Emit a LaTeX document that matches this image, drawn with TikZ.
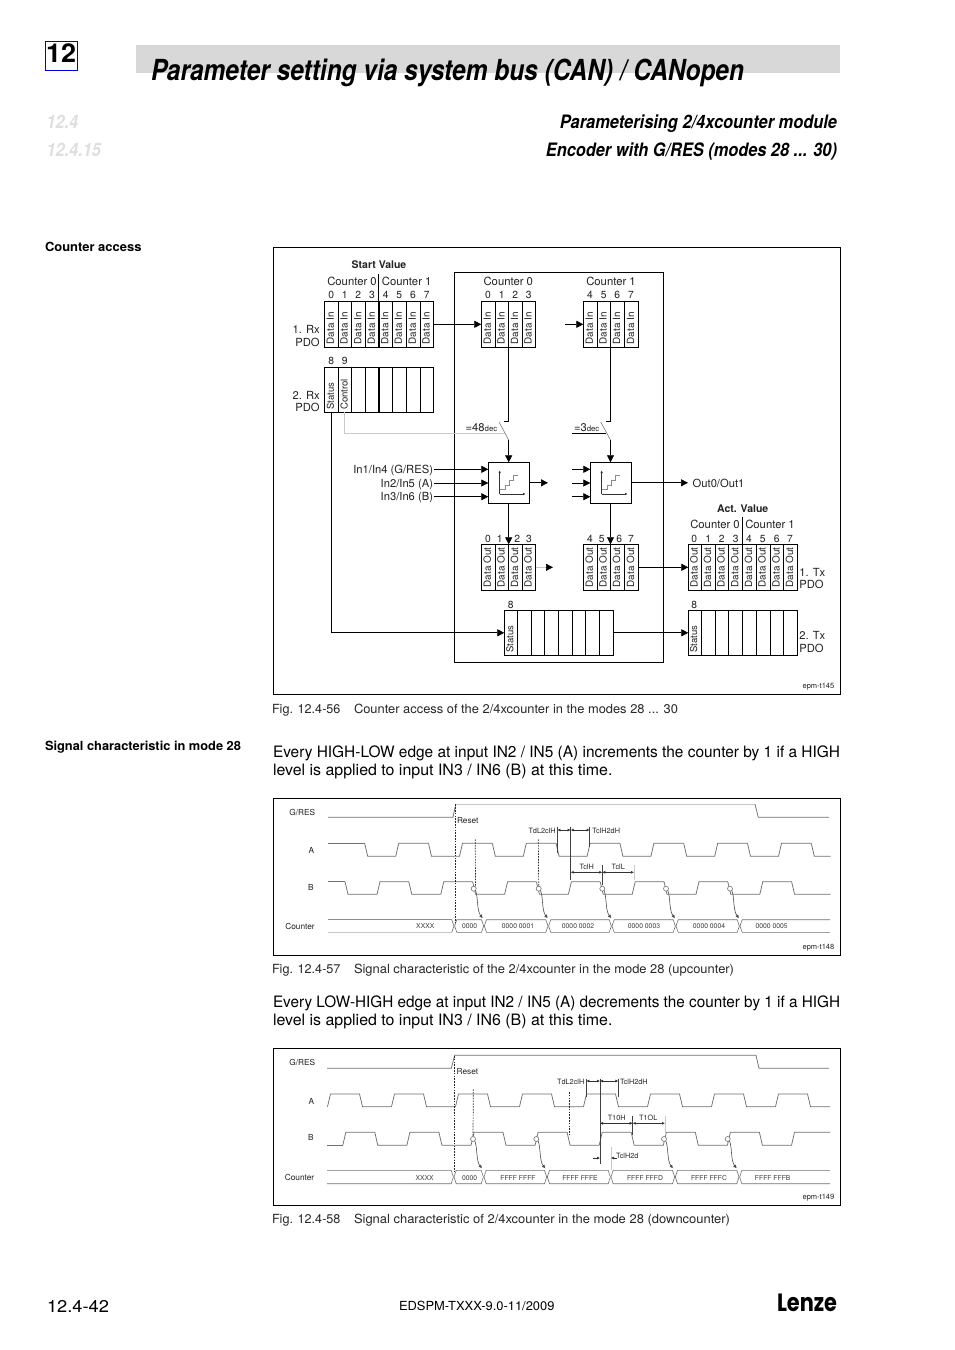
\documentclass[tikz,border=0pt]{standalone}
\usepackage{fontspec}
\usepackage{graphicx}
\setmainfont{TeX Gyre Heros}
\newfontfamily\lenzefont{Poppins}
\usetikzlibrary{arrows.meta,calc}
\definecolor{barg}{HTML}{D8D8D8}
\definecolor{secg}{HTML}{DEDEDE}
\definecolor{sigg}{HTML}{707070}
\definecolor{lightl}{HTML}{C8C8C8}
\definecolor{txtd}{HTML}{222222}
\newcommand\fs[1]{\fontsize{#1}{#1}\selectfont}
\newcommand\fitw[2]{\resizebox{#1pt}{\height}{#2}}
\newcommand\boxn[5]{%
  \pgfmathsetmacro\bw{#4-#2}\pgfmathsetmacro\bh{#5-#3}%
  \pgfmathsetmacro\bx{(#2+#4)/2}\pgfmathsetmacro\by{(#3+#5)/2}%
  \node[cellbox,minimum width=\bw pt,minimum height=\bh pt] (#1) at (\bx,\by) {};}
\tikzset{
  cellbox/.style={draw=black,line width=.7pt,inner sep=0,outer sep=0,fill=none},
  lab/.style={inner sep=0,outer sep=0,text=txtd},
  side/.style={lab,font=\fs{11.2},yshift=-1.5pt},
  num/.style={lab,font=\fs{10.3}},
  cnt/.style={lab,font=\fs{11.3}},
  vtext/.style={lab,rotate=90,anchor=mid west,font=\fs{9.9},xshift=1pt},
  arr/.style={line width=.7pt,-{Triangle[length=7pt,width=7pt]}},
  wire/.style={line width=.7pt},
  sig/.style={line width=.75pt,draw=sigg},
  curve/.style={line width=.6pt,draw=black!70,-{Latex[length=3.5pt,width=3.5pt]}},
  tiny/.style={lab,font=\fs{6.8},text=black!75},
  tlab/.style={lab,font=\fs{8.3}},
  dim/.style={line width=.6pt,{Latex[length=3pt,width=3pt]}-{Latex[length=3pt,width=3pt]},draw=black!80},
  dotl/.style={line width=.7pt,dash pattern=on 1.6pt off 1.2pt,draw=black!85},
  vmark/.style={line width=.6pt,draw=black!75},
  bodyt/.style={lab,anchor=base west,text=black,font=\fs{15.7}},
  capt/.style={lab,anchor=base west,text=black!85,font=\fs{12.6}},
  headb/.style={lab,anchor=base west,text=black,font=\fs{12.6}\bfseries},
  epm/.style={lab,anchor=mid east,font=\fs{7.5}},
  dimt/.style={lab,font=\fs{7.3},yshift=-1pt},
  ring/.style={circle,draw=sigg,line width=.6pt,fill=white,minimum size=5pt,inner sep=0,outer sep=0}
}
\begin{document}
\begin{tikzpicture}[x=1pt,y=-1pt]
\useasboundingbox (0,0) rectangle (954,1350);
\fill[white] (0,0) rectangle (954,1350);
% ---------- header
\fill[barg] (136,45) rectangle (840,72.7);
\node[lab,anchor=base west,text=black] (title) at (151,80) {\fs{29}\bfseries\itshape\fitw{593}{Parameter setting via system bus (CAN) / CANopen}};
\node[draw=blue!90!black,line width=1.3pt,minimum width=32pt,minimum height=29pt,inner sep=0,outer sep=0] (chap) at (61.4,55.8) {};
\node[lab,anchor=base,text=black] (chapn) at (61.2,62) {\fs{26}\bfseries\fitw{30}{12}};
\node[lab,anchor=base west,text=secg] (s1) at (46.5,128.2) {\fs{18.5}\bfseries\itshape\fitw{31.5}{12.4}};
\node[lab,anchor=base west,text=secg] (s2) at (46.5,156.5) {\fs{18.5}\bfseries\itshape\fitw{54.5}{12.4.15}};
\node[lab,anchor=base east,text=black] (h1) at (837,128.2) {\fs{18.5}\bfseries\itshape\fitw{277}{Parameterising 2/4xcounter module}};
\node[lab,anchor=base east,text=black] (h2) at (837,156.5) {\fs{18.5}\bfseries\itshape\fitw{291}{Encoder with G/RES (modes 28 ... 30)}};
\node[headb] (hca) at (45,251.5) {\fitw{96.5}{Counter access}};
\node[headb] (hsc) at (45,750.5) {\fitw{196}{Signal characteristic in mode 28}};
% ---------- figure 1
\boxn{fig1}{273.4}{247.4}{840.4}{694.4}
\boxn{inner}{454.3}{272.3}{663.3}{662.3}
\node[lab,font=\fs{10.5}\bfseries] (sv) at (379,264.5) {Start Value};
\draw[wire] (378.3,274) -- (378.3,301);
\node[cnt] (c0a) at (352,281.7) {Counter 0};
\node[cnt] (c1a) at (406.7,281.7) {Counter 1};
\foreach \i/\x in {0/331.3,1/344.7,2/358.3,3/372,4/385.7,5/399.3,6/413,7/426.7}
  \node[num] (ra\i) at (\x,295.3) {\i};
\boxn{rx1}{324.3}{301.3}{433.7}{347.3}
\foreach \x in {338.3,351.7,365.7,392.3,406.3,420.3} \draw[wire] (\x,301.3) -- (\x,347.3);
\draw[line width=1.4pt] (379,301.3) -- (379,347.3);
\foreach \i/\x in {0/331.3,1/345,2/358.7,3/372.3,4/385.7,5/399.3,6/413.3,7/427}
  \node[vtext] (rxt\i) at (\x,345.3) {Data In};
\node[side,anchor=mid east] (rx1a) at (319.7,329.3) {1. Rx};
\node[side,anchor=mid east] (rx1b) at (319.7,342) {PDO};
\node[num] (n8a) at (331.3,361.3) {8};
\node[num] (n9a) at (344.7,361.3) {9};
\boxn{rx2}{324.3}{367.7}{433.7}{412.3}
\foreach \x in {338.3,351.7,365.7,392.3,406.3,420.3} \draw[wire] (\x,367.7) -- (\x,412.3);
\draw[line width=1.4pt] (379,367.7) -- (379,412.3);
\node[vtext,font=\fs{9.5}] (rs) at (331.3,410.8) {Status};
\node[vtext,font=\fs{9.5}] (rc) at (345,410.8) {Control};
\node[side,anchor=mid east] (rx2a) at (319.7,395.3) {2. Rx};
\node[side,anchor=mid east] (rx2b) at (319.7,407.7) {PDO};
% inner inputs
\node[cnt] (c0b) at (508.3,281.7) {Counter 0};
\node[cnt] (c1b) at (611,281.7) {Counter 1};
\foreach \i/\x in {0/488,1/501.7,2/515.3,3/528.7,4/590,5/603.7,6/617.3,7/631}
  \node[num] (rb\i) at (\x,295.3) {\i};
\boxn{in0}{481.3}{301.3}{535.7}{347.3}
\boxn{in1}{583.3}{301.3}{638.7}{347.3}
\foreach \x in {495.3,508.7,522.3,597.3,610.7,624.3} \draw[wire] (\x,301.3) -- (\x,347.3);
\foreach \i/\x in {0/488.3,1/502,2/515.5,3/529,4/590.3,5/604,6/617.5,7/631.5}
  \node[vtext] (int\i) at (\x,345.3) {Data In};
\draw[arr] (rx1.east) -- (in0.west);
\coordinate (in1feed) at (565,324.3);
\draw[arr] (in1feed) -- (in1.west);
% blocks
\boxn{blkA}{488.3}{462.3}{529.7}{503.3}
\boxn{blkB}{590.3}{462.3}{631.7}{503.3}
\foreach \dx in {0,102}{
  \draw[line width=.6pt,draw=black!80,-{Latex[length=2.5pt,width=2.5pt]}] (499.7+\dx,494) -- (499.7+\dx,470.5);
  \draw[line width=.6pt,draw=black!80,-{Latex[length=2.5pt,width=2.5pt]}] (499.7+\dx,494) -- (525.5+\dx,494);
  \draw[line width=.6pt,draw=black!45] (499.7+\dx,489.5) -- (505+\dx,489.5) -- (505+\dx,485) -- (509.5+\dx,485) -- (509.5+\dx,480) -- (513.7+\dx,480) -- (513.7+\dx,475) -- (518+\dx,475);
}
% switches
\coordinate (swA) at (508.7,347.3);
\coordinate (swAh) at (504,421.3);
\coordinate (swAm) at (508.7,421.3);
\coordinate (swAa) at (499,422);
\coordinate (swAb) at (508.7,440);
\draw[wire] (swA) -- (swAm) -- (swAh);
\draw[line width=.5pt,draw=black!60] (swAa) -- (swAb);
\draw[arr] (swAb) -- (blkA.north -| swAb);
\node[side,anchor=mid west] (eq48) at (465.7,427) {=48{\fs{7.8}dec}};
\coordinate (ctl) at (344.7,412.3);
\coordinate (ctlm) at (344.7,433);
\coordinate (ctle) at (504.7,433);
\draw[line width=.8pt,draw=lightl] (ctl) -- (ctlm) -- (ctle);
\coordinate (swB) at (610.5,347.3);
\coordinate (swBm) at (610.5,421.3);
\coordinate (swBh) at (606,421.3);
\coordinate (swBa) at (600.7,422);
\coordinate (swBb) at (610.5,440);
\draw[wire] (swB) -- (swBm) -- (swBh);
\draw[line width=.5pt,draw=black!60] (swBa) -- (swBb);
\draw[arr] (swBb) -- (blkB.north -| swBb);
\node[side,anchor=mid west] (eq3) at (574,427) {=3{\fs{7.8}dec}};
\coordinate (eq3a) at (572,433);
\coordinate (eq3b) at (606,433);
\draw[wire] (eq3a) -- (eq3b);
% inputs
\foreach \i/\tx/\y in {1/In1\slash In4 (G\slash RES)/469.3,2/In2\slash In5 (A)/483,3/In3\slash In6 (B)/496.7}{
  \node[side,anchor=mid east] (inp\i) at (433,\y) {\tx};
  \coordinate (ia\i) at (433.5,\y);
  \coordinate (ib\i) at (488.3,\y);
  \draw[arr] (ia\i) -- (ib\i);
  \coordinate (fd\i) at (572,\y);
  \coordinate (fe\i) at (590.3,\y);
  \draw[arr] (fd\i) -- (fe\i);
}
\coordinate (outA) at (548,482.8);
\draw[arr] (blkA.east) -- (outA);
\coordinate (outB) at (688,482.8);
\draw[arr] (blkB.east) -- (outB);
\node[side,anchor=mid west] (oo) at (692.7,483) {Out0/Out1};
% out tables
\boxn{out0}{481.3}{544.3}{535.7}{590.3}
\boxn{out1}{583.3}{544.3}{638.7}{590.3}
\foreach \x in {495.3,508.7,522.3,597.3,610.7,624.3} \draw[wire] (\x,544.3) -- (\x,590.3);
\foreach \i/\x in {0/488.3,1/502,2/515.5,3/529,4/590.3,5/604,6/617.5,7/631.5}
  \node[vtext] (outt\i) at (\x,588.3) {Data Out};
\foreach \i/\x in {0/488,1/499.7,2/517.3,3/529,4/590,5/601.7,6/619.3,7/631}
  \node[num] (no\i) at (\x,538.7) {\i};
\draw[arr] (blkA.south -| swAb) -- (out0.north -| swAb);
\draw[arr] (blkB.south -| swBb) -- (out1.north -| swBb);
\coordinate (o0a) at (545.5,567.3);
\coordinate (o0b) at (553,567.3);
\draw[line width=.8pt,draw=lightl] (out0.east) -- (o0a);
\draw[arr] (o0a) -- (o0b);
% tx tables
\boxn{tx1}{688.3}{544.3}{797.3}{590.3}
\boxn{tx2}{688.3}{610.3}{797.3}{655.3}
\foreach \x in {701.7,715.3,728.7,742.7,756.3,770,783.7}{
  \draw[wire] (\x,544.3) -- (\x,590.3);
  \draw[wire] (\x,610.3) -- (\x,655.3);}
\foreach \i/\x in {0/695,1/708.5,2/722,3/735.7,4/749.5,5/763,6/777,7/790.5}
  \node[vtext] (txt\i) at (\x,588.3) {Data Out};
\foreach \i/\x in {0/694.3,1/708.3,2/721.7,3/735.7,4/749,5/762.7,6/776.7,7/790}
  \node[num] (nt\i) at (\x,538.7) {\i};
\draw[arr] (out1.east) -- (tx1.west);
\node[lab,font=\fs{10.5}\bfseries] (av) at (742.7,509) {Act. Value};
\draw[wire] (742.7,516.7) -- (742.7,544.3);
\node[cnt] (c0c) at (715,524.3) {Counter 0};
\node[cnt] (c1c) at (770,524.3) {Counter 1};
\node[side,anchor=mid west] (tx1a) at (799.3,572) {1. Tx};
\node[side,anchor=mid west] (tx1b) at (799.3,584) {PDO};
\node[side,anchor=mid west] (tx2a) at (799.3,635.7) {2. Tx};
\node[side,anchor=mid west] (tx2b) at (799.3,648) {PDO};
\node[num] (n8t) at (694.3,605) {8};
\node[vtext,font=\fs{9.5}] (txs) at (694.5,653.5) {Status};
% status table
\boxn{st}{504.3}{610.3}{613.3}{655.3}
\foreach \x in {517.7,531.7,544.7,558.5,572.7,585.7,599.3} \draw[wire] (\x,610.3) -- (\x,655.3);
\node[num] (n8s) at (510.7,605) {8};
\node[vtext,font=\fs{9.5}] (sts) at (510.7,653.5) {Status};
\coordinate (rsb) at (331.3,412.3);
\coordinate (rsm) at (331.3,632.8);
\draw[arr] (rsb) -- (rsm) -- (st.west);
\draw[arr] (st.east) -- (tx2.west);
\node[epm] (e1) at (834.3,686) {epm-t145};
\node[capt] (f1a) at (272,713.3) {\fitw{68.5}{Fig. 12.4-56}};
\node[capt] (f1b) at (354,713.3) {\fitw{324}{Counter access of the 2/4xcounter in the modes 28 ... 30}};
% ---------- text
\node[bodyt] (b1) at (273,757) {\fitw{567}{Every HIGH-LOW edge at input IN2 / IN5 (A) increments the counter by 1 if a HIGH}};
\node[bodyt] (b2) at (273,775) {\fitw{339.5}{level is applied to input IN3 / IN6 (B) at this time.}};
\node[bodyt] (b3) at (273,1007) {\fitw{567}{Every LOW-HIGH edge at input IN2 / IN5 (A) decrements the counter by 1 if a HIGH}};
\node[bodyt] (b4) at (273,1025) {\fitw{339.5}{level is applied to input IN3 / IN6 (B) at this time.}};
% ---------- figure 2
\boxn{fig2}{273.4}{798.4}{840.4}{955.4}
\node[tlab] (g1) at (302.3,812) {G/RES};
\node[tlab] (a1) at (311.3,850) {A};
\node[tlab] (b1l) at (311,887.7) {B};
\node[tlab] (c1) at (300,926.3) {Counter};
\draw[sig] (328,817.3) -- (453,817.3) -- (455.7,804.3);
\draw[line width=1pt,draw=lightl] (455.7,804.3) -- (755,804.3);
\draw[sig] (755,804.3) -- (758.3,817.3) -- (829,817.3);
\draw[sig] (328,843.3) -- (364.7,843.3);
\foreach \k in {0,...,7}{
  \pgfmathsetmacro\fe{364.7+63.8*\k}
  \pgfmathsetmacro\pa{\fe+3}\pgfmathsetmacro\pb{\fe+31}\pgfmathsetmacro\pc{\fe+34}\pgfmathsetmacro\pd{\fe+63.8}
  \ifnum\k<7 \draw[sig] (\fe,843.3) -- (\pa,856.3) -- (\pb,856.3) -- (\pc,843.3) -- (\pd,843.3);
  \else \draw[sig] (\fe,843.3) -- (\pa,856.3) -- (830.5,856.3); \fi
}
\draw[sig] (328,881.7) -- (345,881.7);
\foreach \k in {0,...,7}{
  \pgfmathsetmacro\fe{345+63.8*\k}
  \pgfmathsetmacro\pa{\fe+3}\pgfmathsetmacro\pb{\fe+32}\pgfmathsetmacro\pc{\fe+35}\pgfmathsetmacro\pd{\fe+63.8}
  \ifnum\k<7 \draw[sig] (\fe,881.7) -- (\pa,894.3) -- (\pb,894.3) -- (\pc,881.7) -- (\pd,881.7);
  \else \draw[sig] (\fe,881.7) -- (\pa,894.3) -- (830.5,894.3); \fi
}
% bus
\draw[line width=.7pt,draw=black!45] (328,919.7) -- (451.7,919.7);
\draw[line width=1pt,draw=lightl] (328,932.3) -- (451.7,932.3);
\foreach \xa/\xb in {454.3/484,484/548.3,548.3/611.7,611.7/675.7,675.7/739.7}{
  \draw[line width=.6pt,draw=sigg] (\xa+2.5,919.7) -- (\xa+.3,926) -- (\xa+2.5,932.3) -- (\xb-2.5,932.3) -- (\xb-.3,926) -- (\xb-2.5,919.7) -- cycle;
}
\draw[line width=.6pt,draw=sigg] (830,919.7) -- (742.2,919.7) -- (740,926) -- (742.2,932.3) -- (830,932.3);
\draw[line width=.6pt,draw=sigg] (451.7,919.7) -- (454,926) -- (451.7,932.3);
\foreach \i/\x/\tx in {1/425.3/XXXX,2/469.7/0000,3/518/0000 0001,4/578/0000 0002,5/644/0000 0003,6/709/0000 0004,7/771.7/0000 0005}
  \node[tiny] (bta\i) at (\x,926.2) {\tx};
\node[tlab,anchor=mid west] (rs1) at (457,821) {Reset};
\draw[dotl] (455.3,804.3) -- (455.3,922);
\foreach \i/\x in {1/473.7,2/538.7,3/602.3,4/666,5/730}{
  \node[ring] (ra\i) at (\x,888.7) {};
  \coordinate (rb\i) at ($(ra\i)+(9,29.5)$);
  \draw[curve] (ra\i.south east) .. controls ($(ra\i)+(4.5,8)$) and ($(ra\i)+(3,22)$) .. (rb\i);
}
\coordinate (ta1) at (475.3,839.3);
\coordinate (ta2) at (538.3,839.3);
\draw[dotl] (ta1) -- (ra1.north east);
\draw[dotl] (ta2) -- (ra2.north);
% dims fig 2
\coordinate (da1) at (557.3,827);  \coordinate (da1b) at (557.3,853);
\coordinate (da2) at (570.7,827);  \coordinate (da2b) at (570.7,880);
\coordinate (da3) at (589.7,827);  \coordinate (da3b) at (589.7,847);
\coordinate (da4) at (602.3,865.3);\coordinate (da4b) at (602.3,885);
\coordinate (da5) at (634,865.3);  \coordinate (da5b) at (634,880);
\draw[vmark] (da1) -- (da1b);
\draw[vmark] (da2) -- (da2b);
\draw[vmark] (da3) -- (da3b);
\draw[vmark] (da4) -- (da4b);
\draw[line width=.8pt,draw=lightl] (da5) -- (da5b);
\draw[dim] (557.3,830) -- (570.7,830);
\draw[dim] (570.7,830) -- (589.7,830);
\draw[dim] (570.7,872.3) -- (602.3,872.3);
\draw[dim] (602.3,872.3) -- (634,872.3);
\node[dimt,anchor=mid east] (tda) at (555.7,830.3) {TdL2clH};
\node[dimt,anchor=mid west] (tdb) at (592.3,830.3) {TclH2dH};
\node[dimt] (tdc) at (586.7,866) {TclH};
\node[dimt] (tdd) at (618.3,866) {TclL};
\node[epm] (e2) at (834.3,947) {epm-t148};
\node[capt] (f2a) at (272,973.3) {\fitw{68.5}{Fig. 12.4-57}};
\node[capt] (f2b) at (354,973.3) {\fitw{380}{Signal characteristic of the 2/4xcounter in the mode 28 (upcounter)}};
% ---------- figure 3
\boxn{fig3}{273.4}{1048.4}{840.4}{1205.4}
\node[tlab] (g2) at (302.3,1062.3) {G/RES};
\node[tlab] (a2) at (311.3,1101) {A};
\node[tlab] (b2l) at (311,1137.7) {B};
\node[tlab] (c2) at (299.5,1177) {Counter};
\draw[sig] (327,1068.3) -- (451.3,1068.3) -- (454.7,1055.3) -- (756,1055.3) -- (759,1068.3) -- (829,1068.3);
\foreach \k in {0,...,7}{
  \pgfmathsetmacro\re{327.5+64*\k}
  \pgfmathsetmacro\pa{\re+3}\pgfmathsetmacro\pb{\re+32}\pgfmathsetmacro\pc{\re+35}\pgfmathsetmacro\pd{\re+64}
  \ifnum\k<7 \draw[sig] (\re,1106.7) -- (\pa,1094) -- (\pb,1094) -- (\pc,1106.7) -- (\pd,1106.7);
  \else \draw[sig] (\re,1106.7) -- (\pa,1094) -- (\pb,1094) -- (\pc,1106.7) -- (830,1106.7); \fi
}
\draw[sig] (327,1145.3) -- (342.8,1145.3);
\foreach \k in {0,...,7}{
  \pgfmathsetmacro\re{342.8+64.1*\k}
  \pgfmathsetmacro\pa{\re+3}\pgfmathsetmacro\pb{\re+32}\pgfmathsetmacro\pc{\re+35}\pgfmathsetmacro\pd{\re+64.1}
  \ifnum\k<7 \draw[sig] (\re,1145.3) -- (\pa,1132.3) -- (\pb,1132.3) -- (\pc,1145.3) -- (\pd,1145.3);
  \else \draw[sig] (\re,1145.3) -- (\pa,1132.3) -- (830,1132.3); \fi
}
\foreach \xa/\xb in {453.7/483.7,483.7/547,547/610.7,610.7/675,675/739.3}{
  \draw[line width=.6pt,draw=sigg] (\xa+2.5,1170.3) -- (\xa+.3,1177) -- (\xa+2.5,1183.7) -- (\xb-2.5,1183.7) -- (\xb-.3,1177) -- (\xb-2.5,1170.3) -- cycle;
}
\draw[line width=.6pt,draw=sigg] (830,1170.3) -- (741.8,1170.3) -- (739.6,1177) -- (741.8,1183.7) -- (830,1183.7);
\draw[line width=.6pt,draw=sigg] (327,1170.3) -- (451.2,1170.3) -- (453.4,1177) -- (451.2,1183.7) -- (327,1183.7);
\foreach \i/\x/\tx in {1/424.7/XXXX,2/469.7/0000,3/518/FFFF FFFF,4/580/FFFF FFFE,5/645/FFFF FFFD,6/709/FFFF FFFC,7/772.7/FFFF FFFB}
  \node[tiny] (btb\i) at (\x,1178) {\tx};
\node[tlab,anchor=mid west] (rs2) at (456.7,1071.7) {Reset};
\draw[dotl] (454.3,1056) -- (454.3,1173);
\foreach \i/\x in {1/473,2/536.3,3/664,4/727.7}{
  \node[ring] (rc\i) at (\x,1139) {};
  \coordinate (rd\i) at ($(rc\i)+(9,29.3)$);
  \draw[curve] (rc\i.south east) .. controls ($(rc\i)+(4.5,8)$) and ($(rc\i)+(3,22)$) .. (rd\i);
}
\coordinate (tb1) at (473.3,1089.3);
\draw[dotl] (tb1) -- (rc1.north);
\coordinate (tb2) at (569.3,1092);
\coordinate (tb2e) at (569.3,1135);
\draw[dotl] (tb2) -- (tb2e);
\coordinate (db1) at (586.3,1078.7); \coordinate (db1b) at (586.3,1097);
\coordinate (db2) at (600,1078.7);   \coordinate (db2b) at (600,1163.7);
\coordinate (db3) at (618.3,1078.7); \coordinate (db3b) at (618.3,1097);
\coordinate (db4) at (632.7,1116.3); \coordinate (db4b) at (632.7,1135);
\coordinate (db5) at (665,1116.3);   \coordinate (db5b) at (665,1135);
\coordinate (db6) at (611,1147);     \coordinate (db6b) at (611,1170);
\draw[vmark] (db1) -- (db1b);
\draw[vmark] (db2) -- (db2b);
\draw[vmark] (db3) -- (db3b);
\draw[vmark] (db4) -- (db4b);
\draw[line width=.8pt,draw=lightl] (db5) -- (db5b);
\draw[line width=.8pt,draw=lightl] (db6) -- (db6b);
\draw[dim] (586.3,1081) -- (600,1081);
\draw[dim] (600,1081) -- (618.3,1081);
\draw[dim] (600,1123.3) -- (632.7,1123.3);
\draw[dim] (632.7,1123.3) -- (665,1123.3);
\coordinate (dc1) at (592.7,1158); \coordinate (dc2) at (616.7,1158);
\coordinate (dc1e) at (600,1158);  \coordinate (dc2e) at (611,1158);
\draw[line width=.6pt,-{Latex[length=3pt,width=3pt]},draw=black!80] (dc1) -- (dc1e);
\draw[line width=.6pt,-{Latex[length=3pt,width=3pt]},draw=black!80] (dc2) -- (dc2e);
\node[dimt,anchor=mid east] (tea) at (584.3,1081.3) {TdL2clH};
\node[dimt,anchor=mid west] (teb) at (620,1081.3) {TclH2dH};
\node[dimt] (tec) at (616.7,1117) {T10H};
\node[dimt] (ted) at (648.3,1117) {T1OL};
\node[dimt,anchor=mid west] (tee) at (616,1154.7) {TclH2d};
\node[epm] (e3) at (834.3,1197) {epm-t149};
\node[capt] (f3a) at (272,1223.3) {\fitw{68.5}{Fig. 12.4-58}};
\node[capt] (f3b) at (354,1223.3) {\fitw{376}{Signal characteristic of 2/4xcounter in the mode 28 (downcounter)}};
% ---------- footer
\node[lab,anchor=base west,text=black] (pg) at (47,1312.7) {\fs{17}\fitw{62}{12.4-42}};
\node[lab,anchor=base west,text=black] (doc) at (399,1310.5) {\fs{12.5}\fitw{155.5}{EDSPM-TXXX-9.0-11/2009}};
\node[lab,anchor=base west,text=black] (lenze) at (777,1311.5) {\lenzefont\fs{25}\bfseries\fitw{60}{Lenze}};
\end{tikzpicture}
\end{document}
